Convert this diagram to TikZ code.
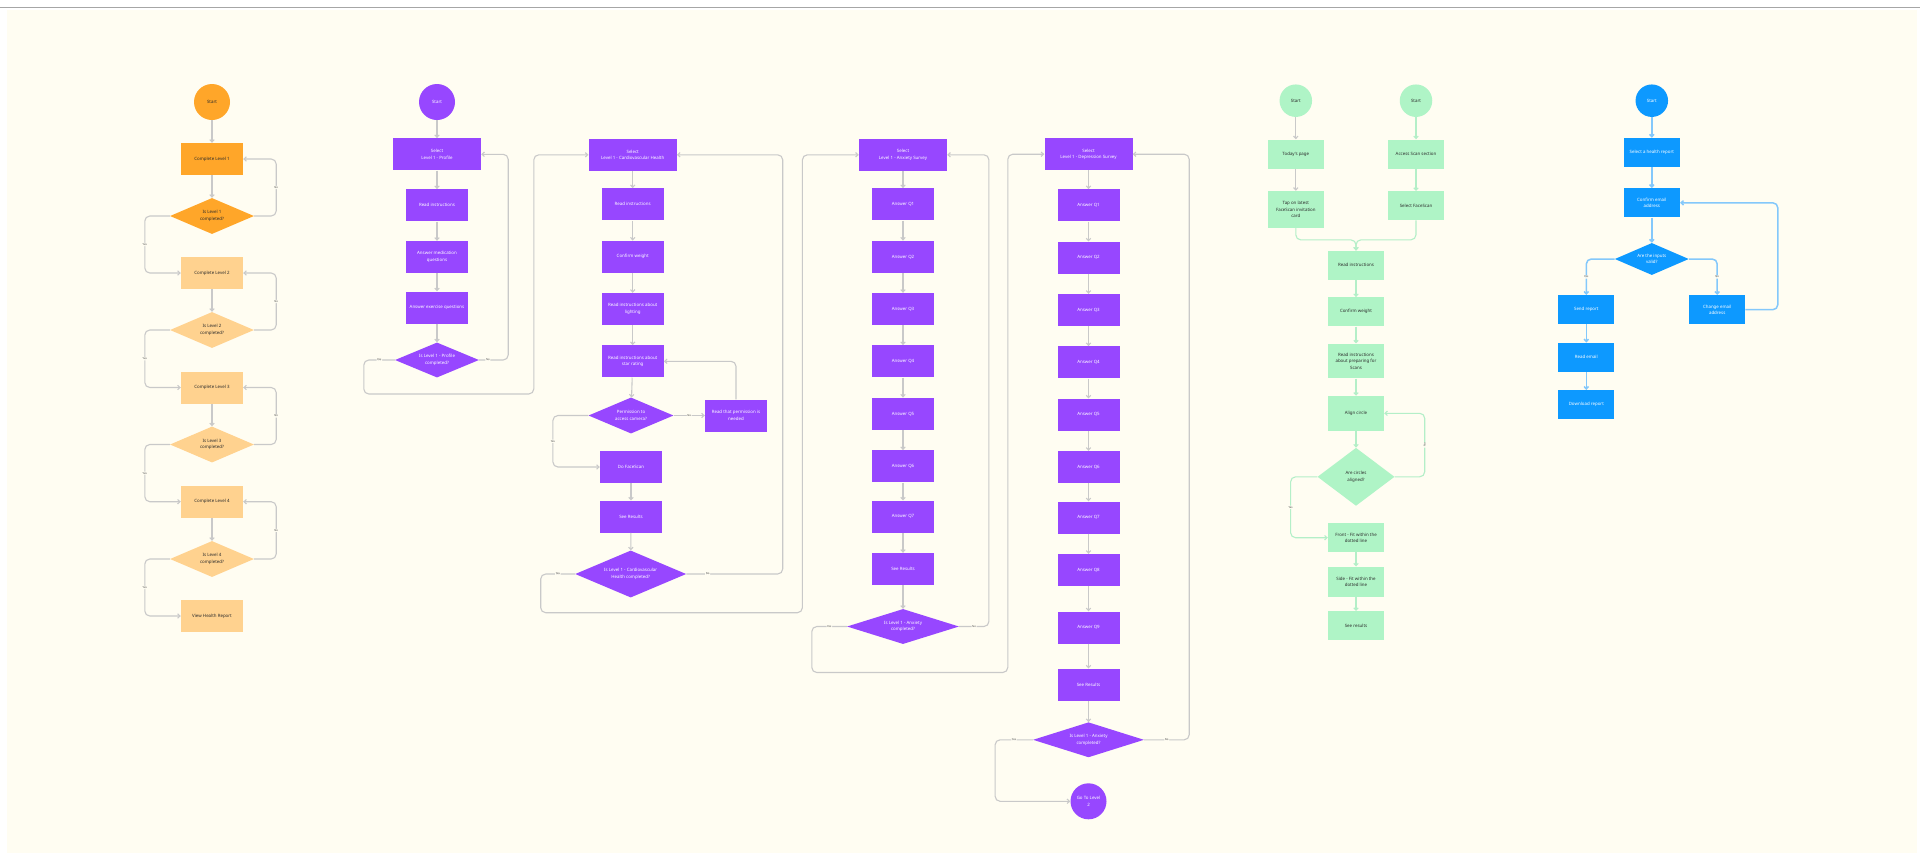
\documentclass[tikz,border=0pt]{standalone}
\usepackage{fontspec}
\setmainfont{Noto Sans}
\usetikzlibrary{positioning,arrows.meta,shapes.geometric}
\definecolor{bgbeige}{HTML}{FFFDF2}
\definecolor{orangedark}{HTML}{FFA629}
\definecolor{orangelight}{HTML}{FFD28F}
\definecolor{purplefill}{HTML}{9747FF}
\definecolor{greenfill}{HTML}{AFF4C6}
\definecolor{bluefill}{HTML}{0D99FF}
\definecolor{linegrey}{HTML}{C9C9C9}
\definecolor{linegreen}{HTML}{B4EFC8}
\definecolor{lineblue}{HTML}{84C8FB}
\definecolor{textdark}{HTML}{2B2B2B}

\begin{document}
\begin{tikzpicture}[
          x=1pt, y=-1pt,
          every node/.style={font=\fontsize{4.4}{6.6}\selectfont},
          base/.style={rectangle, inner sep=1pt, align=center},
          obox/.style={base, fill=orangedark, text=textdark, minimum width=62pt, minimum height=32pt},
          olbox/.style={obox, fill=orangelight},
          odia/.style={diamond, inner sep=0pt, align=center, aspect=2.3, fill=orangedark, text=textdark, minimum width=84pt, minimum height=36pt},
          oldia/.style={odia, fill=orangelight},
          ocirc/.style={circle, inner sep=0pt, align=center, minimum size=36pt, fill=orangedark, text=textdark},
          pbox/.style={base, fill=purplefill, text=white, minimum width=62pt, minimum height=32pt},
          pwide/.style={pbox, minimum width=88pt},
          pdia/.style={diamond, inner sep=0pt, align=center, aspect=2.4, fill=purplefill, text=white},
          pcirc/.style={circle, inner sep=0pt, align=center, minimum size=36pt, fill=purplefill, text=white},
          gbox/.style={base, fill=greenfill, text=textdark, minimum width=56pt, minimum height=29pt},
          gdiam/.style={diamond, inner sep=0pt, align=center, aspect=1.33, fill=greenfill, text=textdark, minimum width=77pt, minimum height=58pt},
          gcirc/.style={circle, inner sep=0pt, align=center, minimum size=32.5pt, fill=greenfill, text=textdark},
          bbox/.style={base, fill=bluefill, text=white, minimum width=56pt, minimum height=29pt},
          bdiam/.style={diamond, inner sep=0pt, align=center, aspect=2.3, fill=bluefill, text=white, minimum width=74pt, minimum height=32pt},
          bcirc/.style={circle, inner sep=0pt, align=center, minimum size=32.5pt, fill=bluefill, text=white},
          lbl/.style={font=\fontsize{2.7}{3}\selectfont, text=black!70, fill=bgbeige, inner sep=0.6pt},
          arr/.style={draw=linegrey, line width=1.1pt, rounded corners=5pt, -{Straight Barb[length=2.4pt, width=4.4pt]}},
          garr/.style={arr, draw=linegreen},
          barr/.style={arr, draw=lineblue, line width=1.5pt}
      ]
        \useasboundingbox (0,0) rectangle (1920,863);
        \fill[bgbeige] (7,10) rectangle (1917,853);
        \draw[black!35, line width=0.8pt] (0,7) -- (1920,7);

        \node[ocirc] (ostart) at (212,102) {Start};
        \node[obox] (olv1) at (212,159) {Complete Level 1};
        \node[odia] (odia1) at (212,216) {Is Level 1\\completed?};
        \node[olbox] (olv2) at (212,273) {Complete Level 2};
        \node[oldia] (odia2) at (212,330) {Is Level 2\\completed?};
        \node[olbox] (olv3) at (212,387.5) {Complete Level 3};
        \node[oldia] (odia3) at (212,444.5) {Is Level 3\\completed?};
        \node[olbox] (olv4) at (212,501.7) {Complete Level 4};
        \node[oldia] (odia4) at (212,559) {Is Level 4\\completed?};
        \node[olbox] (oview) at (212,616) {View Health Report};
        \draw[arr] (ostart) -- (olv1);
        \draw[arr] (olv1) -- (odia1);
        \draw[arr] (olv2) -- (odia2);
        \draw[arr] (olv3) -- (odia3);
        \draw[arr] (olv4) -- (odia4);
        \draw[arr] (odia1.east) -- ++(22,0) |- node[lbl, pos=0.25] {No} (olv1.east);
        \draw[arr] (odia2.east) -- ++(22,0) |- node[lbl, pos=0.25] {No} (olv2.east);
        \draw[arr] (odia3.east) -- ++(22,0) |- node[lbl, pos=0.25] {No} (olv3.east);
        \draw[arr] (odia4.east) -- ++(22,0) |- node[lbl, pos=0.25] {No} (olv4.east);
        \draw[arr] (odia1.west) -- ++(-25,0) |- node[lbl, pos=0.25] {Yes} (olv2.west);
        \draw[arr] (odia2.west) -- ++(-25,0) |- node[lbl, pos=0.25] {Yes} (olv3.west);
        \draw[arr] (odia3.west) -- ++(-25,0) |- node[lbl, pos=0.25] {Yes} (olv4.west);
        \draw[arr] (odia4.west) -- ++(-25,0) |- node[lbl, pos=0.25] {Yes} (oview.west);

        \node[pcirc] (pstart) at (437,102) {Start};
        \node[pwide] (psel) at (437,154.3) {Select\\Level 1 - Profile};
        \node[pbox] (pread) at (437,205.3) {Read instructions};
        \node[pbox] (pmed) at (437,257) {Answer medication\\questions};
        \node[pbox] (pexe) at (437,307.5) {Answer exercise questions};
        \node[pdia, minimum width=84pt, minimum height=35pt] (pdia) at (437,360) {Is Level 1 - Profile\\completed?};
        \draw[arr] (pstart) -- (psel);
        \draw[arr] (psel) -- (pread);
        \draw[arr] (pread) -- (pmed);
        \draw[arr] (pmed) -- (pexe);
        \draw[arr] (pexe) -- (pdia);
        \draw[arr] (pdia.east) -- node[lbl, pos=0.3] {No} ++(29,0) |- (psel.east);

        \node[pwide] (csel) at (632.7,154.8) {Select\\Level 1 - Cardiovascular Health};
        \node[pbox] (cread) at (632.7,204.3) {Read instructions};
        \node[pbox] (cconf) at (632.7,256.8) {Confirm weight};
        \node[pbox] (clight) at (632.7,309) {Read instructions about\\lighting};
        \node[pbox] (cstar) at (632.7,361.3) {Read instructions about\\star rating};
        \node[pdia, minimum width=85pt, minimum height=36pt] (cperm) at (631,415.5) {Permission to\\access camera?};
        \node[pbox] (cneed) at (736,415.5) {Read that permission is\\needed};
        \node[pbox] (cscan) at (631,467) {Do FaceScan};
        \node[pbox] (cres) at (631,516.7) {See Results};
        \node[pdia, minimum width=111pt, minimum height=47pt] (cdia) at (630.7,574) {Is Level 1 - Cardiovascular\\Health completed?};
        \draw[arr] (pdia.west) -- node[lbl, pos=0.5] {Yes} ++(-31,0) |- ++(170,34) |- (csel.west);
        \draw[arr] (csel) -- (cread);
        \draw[arr] (cread) -- (cconf);
        \draw[arr] (cconf) -- (clight);
        \draw[arr] (clight) -- (cstar);
        \draw[arr] (cstar) -- (cperm);
        \draw[arr] (cperm.east) -- node[lbl] {No} (cneed.west);
        \draw[arr] (cneed.north) |- (cstar.east);
        \draw[arr] (cperm.west) -- ++(-35.4,0) |- node[lbl, pos=0.25] {Yes} (cscan.west);
        \draw[arr] (cscan) -- (cres);
        \draw[arr] (cres) -- (cdia);
        \draw[arr] (cdia.east) -- node[lbl, pos=0.22] {No} ++(96.3,0) |- (csel.east);

        \node[pwide] (asel) at (903,154.8) {Select\\Level 1 - Anxiety Survey};
        \node[pbox] (aq1) at (903,204.3) {Answer Q1};
        \node[pbox] (aq2) at (903,256.8) {Answer Q2};
        \node[pbox] (aq3) at (903,309) {Answer Q3};
        \node[pbox] (aq4) at (903,361.3) {Answer Q4};
        \node[pbox] (aq5) at (903,413.8) {Answer Q5};
        \node[pbox] (aq6) at (903,466.3) {Answer Q6};
        \node[pbox] (aq7) at (903,516.7) {Answer Q7};
        \node[pbox] (ares) at (903,569) {See Results};
        \node[pdia, minimum width=112pt, minimum height=35pt] (adia) at (903,626.5) {Is Level 1 - Anxiety\\completed?};
        \draw[arr] (cdia.west) -- node[lbl] {Yes} ++(-34.3,0) |- ++(261.7,38.7) |- (asel.west);
        \draw[arr] (asel) -- (aq1);
        \draw[arr] (aq1) -- (aq2);
        \draw[arr] (aq2) -- (aq3);
        \draw[arr] (aq3) -- (aq4);
        \draw[arr] (aq4) -- (aq5);
        \draw[arr] (aq5) -- (aq6);
        \draw[arr] (aq6) -- (aq7);
        \draw[arr] (aq7) -- (ares);
        \draw[arr] (ares) -- (adia);
        \draw[arr] (adia.east) -- node[lbl] {No} ++(29.7,0) |- (asel.east);

        \node[pwide] (dsel) at (1088.5,154.2) {Select\\Level 1 - Depression Survey};
        \node[pbox] (dq1) at (1088.5,205.3) {Answer Q1};
        \node[pbox] (dq2) at (1088.5,257.7) {Answer Q2};
        \node[pbox] (dq3) at (1088.5,310) {Answer Q3};
        \node[pbox] (dq4) at (1088.5,362.3) {Answer Q4};
        \node[pbox] (dq5) at (1088.5,414.7) {Answer Q5};
        \node[pbox] (dq6) at (1088.5,467) {Answer Q6};
        \node[pbox] (dq7) at (1088.5,517.5) {Answer Q7};
        \node[pbox] (dq8) at (1088.5,570) {Answer Q8};
        \node[pbox] (dq9) at (1088.5,627.5) {Answer Q9};
        \node[pbox] (dres) at (1088.5,684.7) {See Results};
        \node[pdia, minimum width=111pt, minimum height=35pt] (ddia) at (1088.5,739.8) {Is Level 1 - Anxiety\\completed?};
        \node[pcirc] (dgo) at (1088.5,801.3) {Go To Level\\2};
        \draw[arr] (adia.west) -- node[lbl] {Yes} ++(-35,0) |- ++(196,46) |- (dsel.west);
        \draw[arr] (dsel) -- (dq1);
        \draw[arr] (dq1) -- (dq2);
        \draw[arr] (dq2) -- (dq3);
        \draw[arr] (dq3) -- (dq4);
        \draw[arr] (dq4) -- (dq5);
        \draw[arr] (dq5) -- (dq6);
        \draw[arr] (dq6) -- (dq7);
        \draw[arr] (dq7) -- (dq8);
        \draw[arr] (dq8) -- (dq9);
        \draw[arr] (dq9) -- (dres);
        \draw[arr] (dres) -- (ddia);
        \draw[arr] (ddia.east) -- node[lbl] {No} ++(45,0) |- (dsel.east);
        \draw[arr] (ddia.west) -- node[lbl] {Yes} ++(-37.7,0) |- (dgo.west);

        \node[gcirc] (gstart1) at (1295.8,100.7) {Start};
        \node[gcirc] (gstart2) at (1416,100.7) {Start};
        \node[gbox] (gtoday) at (1295.8,154) {Today's page};
        \node[gbox] (gacc) at (1416,154) {Access Scan section};
        \node[gbox, minimum height=37pt] (gtap) at (1295.8,209.5) {Tap on latest\\FaceScan invitation\\card};
        \node[gbox] (gsel) at (1416,205.7) {Select FaceScan};
        \node[gbox] (gread) at (1356,265.3) {Read instructions};
        \node[gbox] (gconf) at (1356,311.8) {Confirm weight};
        \node[gbox, minimum height=34.7pt] (gprep) at (1356,361) {Read instructions\\about preparing for\\Scans};
        \node[gbox, minimum height=34.7pt] (galign) at (1356,413.3) {Align circle};
        \node[gdiam] (gdia) at (1356,476.8) {Are circles\\aligned?};
        \node[gbox] (gfront) at (1356,537.7) {Front - Fit within the\\dotted line};
        \node[gbox, minimum height=30pt] (gside) at (1356,581.7) {Side - Fit within the\\dotted line};
        \node[gbox] (gres) at (1356,625.7) {See results};
        \draw[arr] (gstart1) -- (gtoday);
        \draw[arr] (gtoday) -- (gtap);
        \draw[garr] (gstart2) -- (gacc);
        \draw[garr] (gacc) -- (gsel);
        \draw[garr] (gtap.south) -- ++(0,11.7) -| (gread.north);
        \draw[garr] (gsel.south) -- ++(0,19.4) -| (gread.north);
        \draw[garr] (gread) -- (gconf);
        \draw[garr] (gconf) -- (gprep);
        \draw[garr] (gprep) -- (galign);
        \draw[garr] (galign) -- (gdia);
        \draw[garr] (gdia.east) -- ++(30,0) |- node[lbl, pos=0.25, rotate=90] {No} (galign.east);
        \draw[garr] (gdia.west) -- ++(-26.7,0) |- node[lbl, pos=0.25] {Yes} (gfront.west);
        \draw[garr] (gfront) -- (gside);
        \draw[garr] (gside) -- (gres);

        \node[bcirc] (bstart) at (1651.8,100.7) {Start};
        \node[bbox] (bsel) at (1651.8,152.5) {Select a health report};
        \node[bbox] (bconf) at (1651.8,202.8) {Confirm email\\address};
        \node[bdiam] (bdia) at (1651.8,259) {Are the inputs\\valid?};
        \node[bbox] (bsend) at (1586.3,309.7) {Send report};
        \node[bbox] (bchg) at (1717.2,309.7) {Change email\\address};
        \node[bbox] (bread) at (1586.3,357.3) {Read email};
        \node[bbox] (bdown) at (1586.3,404.7) {Download report};
        \draw[barr] (bstart) -- (bsel);
        \draw[barr] (bsel) -- (bconf);
        \draw[barr] (bconf) -- (bdia);
        \draw[barr] (bdia.west) -| node[lbl, pos=0.75] {Yes} (bsend.north);
        \draw[barr] (bdia.east) -| node[lbl, pos=0.75] {No} (bchg.north);
        \draw[barr] (bchg.east) -- ++(32.4,0) |- (bconf.east);
        \draw[barr] (bsend) -- (bread);
        \draw[barr] (bread) -- (bdown);
      \end{tikzpicture}
\end{document}
